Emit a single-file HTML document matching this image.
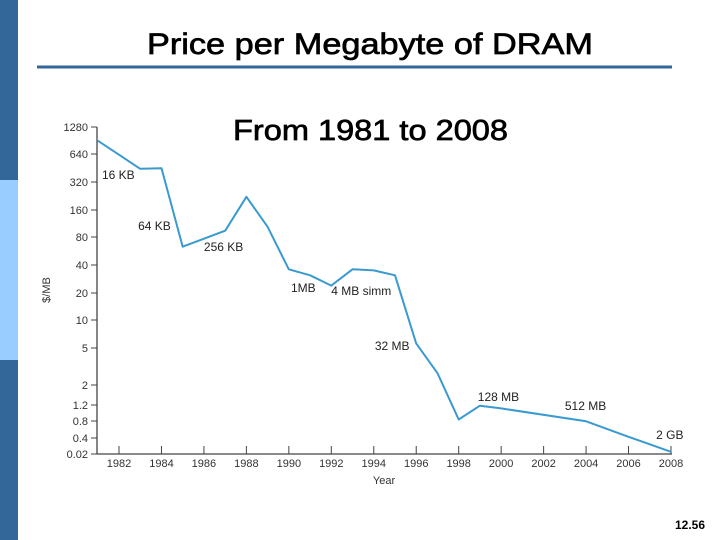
<!DOCTYPE html>
<html><head><meta charset="utf-8"><style>
html,body{margin:0;padding:0;background:#fff;width:720px;height:540px;overflow:hidden}
svg{display:block;font-family:"Liberation Sans",sans-serif}
</style></head><body>
<svg id="chart" width="720" height="540" viewBox="0 0 720 540" xmlns="http://www.w3.org/2000/svg">
<rect x="0" y="0" width="18" height="180" fill="#336699"/>
<rect x="0" y="180" width="18" height="180" fill="#99ccff"/>
<rect x="0" y="360" width="18" height="180" fill="#336699"/>
<text x="147" y="54" font-size="30" stroke="#000" stroke-width="0.7" textLength="446" lengthAdjust="spacingAndGlyphs" fill="#000">Price per Megabyte of DRAM</text>
<line x1="37" y1="67" x2="672" y2="67" stroke="#336699" stroke-width="3"/>
<text x="233" y="140" font-size="29" stroke="#000" stroke-width="0.7" textLength="275" lengthAdjust="spacingAndGlyphs" fill="#000">From 1981 to 2008</text>
<text transform="translate(50,290) rotate(-90)" text-anchor="middle" font-size="11" fill="#333">$/MB</text>
<text x="384" y="484" text-anchor="middle" font-size="11" fill="#333">Year</text>
<g id="axes"></g>
<g id="marks"></g>
<text x="705" y="529" text-anchor="end" font-size="12" font-weight="bold" fill="#000">12.56</text>
</svg>
<script>
const years = [1981,1983,1984,1985,1987,1988,1989,1990,1991,1992,1993,1994,1995,1996,1997,1998,1999,2000,2004,2006,2008];
const prices = [900,444,450,63,94,222,104,36,31,24,36,35,31,5.6,2.68,0.83,1.18,1.1,0.79,0.42,0.03];
const yTickValues = [1280,640,320,160,80,40,20,10,5,2,1.2,0.8,0.4,0.02];
const yTickLabels = ["1280","640","320","160","80","40","20","10","5","2","1.2","0.8","0.4","0.02"];
const xTickYears = [1982,1984,1986,1988,1990,1992,1994,1996,1998,2000,2002,2004,2006,2008];
const annotLabels = ["16 KB","64 KB","256 KB","1MB","4 MB simm","32 MB","128 MB","512 MB","2 GB"];
const annotYears = [1981.2,1982.9,1986.0,1990.1,1992.0,1994.05,1998.9,2003.0,2007.3];
const annotValues = [345,96,56.6,20.5,19,4.76,1.33,1.06,0.33];

const NS="http://www.w3.org/2000/svg";
const yTickPix=[127,154,182,210,237,265,293,320,348,385,405,421,438,454];
function xScale(yr){return 119+(yr-1982)*(671-119)/26;}
function yScale(v){
  const lv=Math.log(v);
  for(let i=0;i<yTickValues.length-1;i++){
    const a=Math.log(yTickValues[i]),b=Math.log(yTickValues[i+1]);
    if(lv<=a&&lv>=b){return yTickPix[i]+(a-lv)/(a-b)*(yTickPix[i+1]-yTickPix[i]);}
  }
  if(lv>Math.log(yTickValues[0])){const a=Math.log(1280),b=Math.log(640);return 127-(lv-a)/(a-b)*27;}
  return 454;
}
const axes=document.getElementById('axes'),marks=document.getElementById('marks');
function mk(tag,attrs,parent){const e=document.createElementNS(NS,tag);for(const k in attrs)e.setAttribute(k,attrs[k]);parent.appendChild(e);return e;}
let e=mk('line',{x1:97,y1:127,x2:97,y2:454,stroke:'#444','stroke-width':1.3},axes);


e=mk('line',{x1:97,y1:454,x2:672,y2:454,stroke:'#444','stroke-width':1.3},axes);


yTickValues.forEach((v,i)=>{
  const y=yScale(v);
  let t=mk('line',{x1:91,y1:y,x2:97,y2:y,stroke:'#444','stroke-width':1},axes);
  
  
  let l=mk('text',{x:88,y:y+4,'text-anchor':'end','font-size':11,fill:'#333'},axes);
  l.textContent=yTickLabels[i];
  
  
});
xTickYears.forEach(yr=>{
  const x=xScale(yr);
  let t=mk('line',{x1:x,y1:446,x2:x,y2:454,stroke:'#444','stroke-width':1},axes);
  
  
  let l=mk('text',{x:x,y:467,'text-anchor':'middle','font-size':11,fill:'#333'},axes);
  l.textContent=String(yr);
  
  
});
const pts=years.map((yr,i)=>xScale(yr).toFixed(1)+','+yScale(prices[i]).toFixed(1)).join(' ');
let pl=mk('polyline',{points:pts,fill:'none',stroke:'#3a9ad0','stroke-width':2,'stroke-linejoin':'round'},marks);


annotLabels.forEach((s,i)=>{
  let l=mk('text',{x:xScale(annotYears[i]),y:yScale(annotValues[i]),'font-size':12,fill:'#222'},marks);
  l.textContent=s;
  
  
});
</script>
</body></html>
